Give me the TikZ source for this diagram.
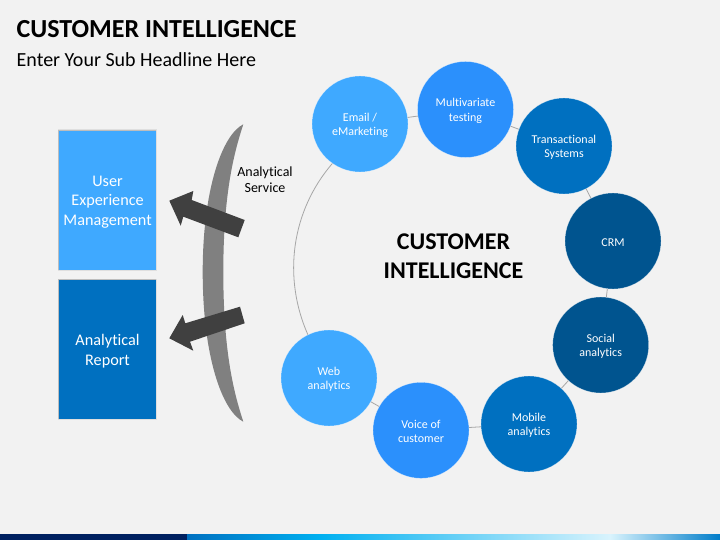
\documentclass[tikz,border=0pt]{standalone}
\usepackage{fontspec}
\setmainfont[Ligatures={NoCommon}]{Carlito}
\definecolor{bgc}{HTML}{F2F2F2}
\definecolor{cA}{HTML}{3FA9FF}
\definecolor{cB}{HTML}{2B90FC}
\definecolor{cC}{HTML}{0070C0}
\definecolor{cD}{HTML}{00548F}
\definecolor{navy}{HTML}{002060}
\definecolor{sky}{HTML}{00B0F0}
\definecolor{ringc}{HTML}{A6A6A6}
\definecolor{arrowc}{HTML}{404040}
\definecolor{crescent}{HTML}{808080}
\begin{document}
\begin{tikzpicture}[x=1pt,y=-1pt,
  bubble/.style={circle,minimum size=96pt,inner sep=0pt,draw=white,draw opacity=.5,line width=.4pt},
  btext/.style={text=white,font=\fontsize{12}{14.5}\selectfont,align=center,inner sep=0pt,yshift=-1.3pt},
  panel/.style={rectangle,anchor=north west,inner sep=0pt},
  ptext/.style={text=white,font=\fontsize{16.2}{19.5}\selectfont,align=center,inner sep=0pt,yshift=-1.6pt},
  ring/.style={draw=ringc,line width=.8pt},
  bigarrow/.style={fill=arrowc,draw=none}]
\useasboundingbox (0,0) rectangle (720,540);
\fill[bgc] (0,0) rectangle (720,540);
% bottom band
\fill[navy] (0,534) rectangle (187,540);
\fill[left color=cC,right color=sky] (187,534) rectangle (320,540);
\fill[left color=sky,right color=white!85!sky,draw=none] (320,534) rectangle (610,540);
\fill[left color=white!85!sky,right color=cC!80!sky] (610,534) rectangle (720,540);
% titles
\node[anchor=west,inner sep=0pt,font=\fontsize{26}{30}\bfseries\selectfont] (title) at (16.5,29) {CUSTOMER INTELLIGENCE};
\node[anchor=west,inner sep=0pt,font=\fontsize{20}{24}\selectfont] (sub) at (16.5,60) {Enter Your Sub Headline Here};
% crescent
\fill[crescent] (243.3,124.3) .. controls (222,135) and (202.7,190) .. (202.7,272)
  .. controls (202.7,356) and (222,411) .. (243.3,421.7)
  .. controls (235,396) and (223.3,356) .. (223.3,272)
  .. controls (223.3,190) and (235,150) .. (243.3,124.3) -- cycle;
% panels
\foreach \yy/\hh in {130.7/138.6,280/138.3}{
  \draw[black,opacity=.08,line width=3pt] (59,\yy) rectangle (155.7,\yy+\hh);
  \draw[black,opacity=.15,line width=1.5pt] (59,\yy) rectangle (155.7,\yy+\hh);
}
\node[panel,fill=cA,minimum width=96.7pt,minimum height=138.6pt,label={[ptext]center:User\\Experience\\Management}] (uxm) at (59,130.7) {};
\node[panel,fill=cC,minimum width=96.7pt,minimum height=138.3pt,label={[ptext]center:Analytical\\Report}] (report) at (59,280) {};
% arrows
\fill[bigarrow] (244.7,220) -- (238.3,237.3) -- (183.3,216.7) -- (180.7,225.7) -- (169.3,200.7) -- (193.3,191) -- (191.7,200) -- cycle;
\fill[bigarrow] (240,306.7) -- (244.7,323.3) -- (190,341.7) -- (193.3,350.7) -- (169.3,338.3) -- (182.7,315) -- (185.3,323.3) -- cycle;
\node[font=\fontsize{14}{16.5}\selectfont,align=center,inner sep=0pt] (service) at (265,179.5) {Analytical\\Service};
% bubbles
\node[bubble,fill=cA,label={[btext]center:Email /\\eMarketing}] (email) at (360,124) {};
\node[bubble,fill=cB,label={[btext]center:Multivariate\\testing}] (multi) at (465.5,109.5) {};
\node[bubble,fill=cC,label={[btext]center:Transactional\\Systems}] (trans) at (564,146) {};
\node[bubble,fill=cD,label={[btext]center:CRM}] (crm) at (613,241) {};
\node[bubble,fill=cD,label={[btext]center:Social\\analytics}] (social) at (600.7,345) {};
\node[bubble,fill=cC,label={[btext]center:Mobile\\analytics}] (mobile) at (529,424) {};
\node[bubble,fill=cB,label={[btext]center:Voice of\\customer}] (voice) at (421,430.3) {};
\node[bubble,fill=cA,label={[btext]center:Web\\analytics}] (web) at (329,378) {};
% ring connectors
\draw[ring] (email) -- (multi);
\draw[ring] (multi) -- (trans);
\draw[ring] (trans) -- (crm);
\draw[ring] (crm) -- (social);
\draw[ring] (social) -- (mobile);
\draw[ring] (mobile) -- (voice);
\draw[ring] (voice) -- (web);
\draw[ring] (web.116.6) .. controls (282.4,277) and (291.4,211) .. (email.235);
% centre title
\node[font=\fontsize{24}{29}\bfseries\selectfont,align=center,inner sep=0pt] (centre) at (453.5,256.5) {CUSTOMER\\INTELLIGENCE};
\end{tikzpicture}
\end{document}
